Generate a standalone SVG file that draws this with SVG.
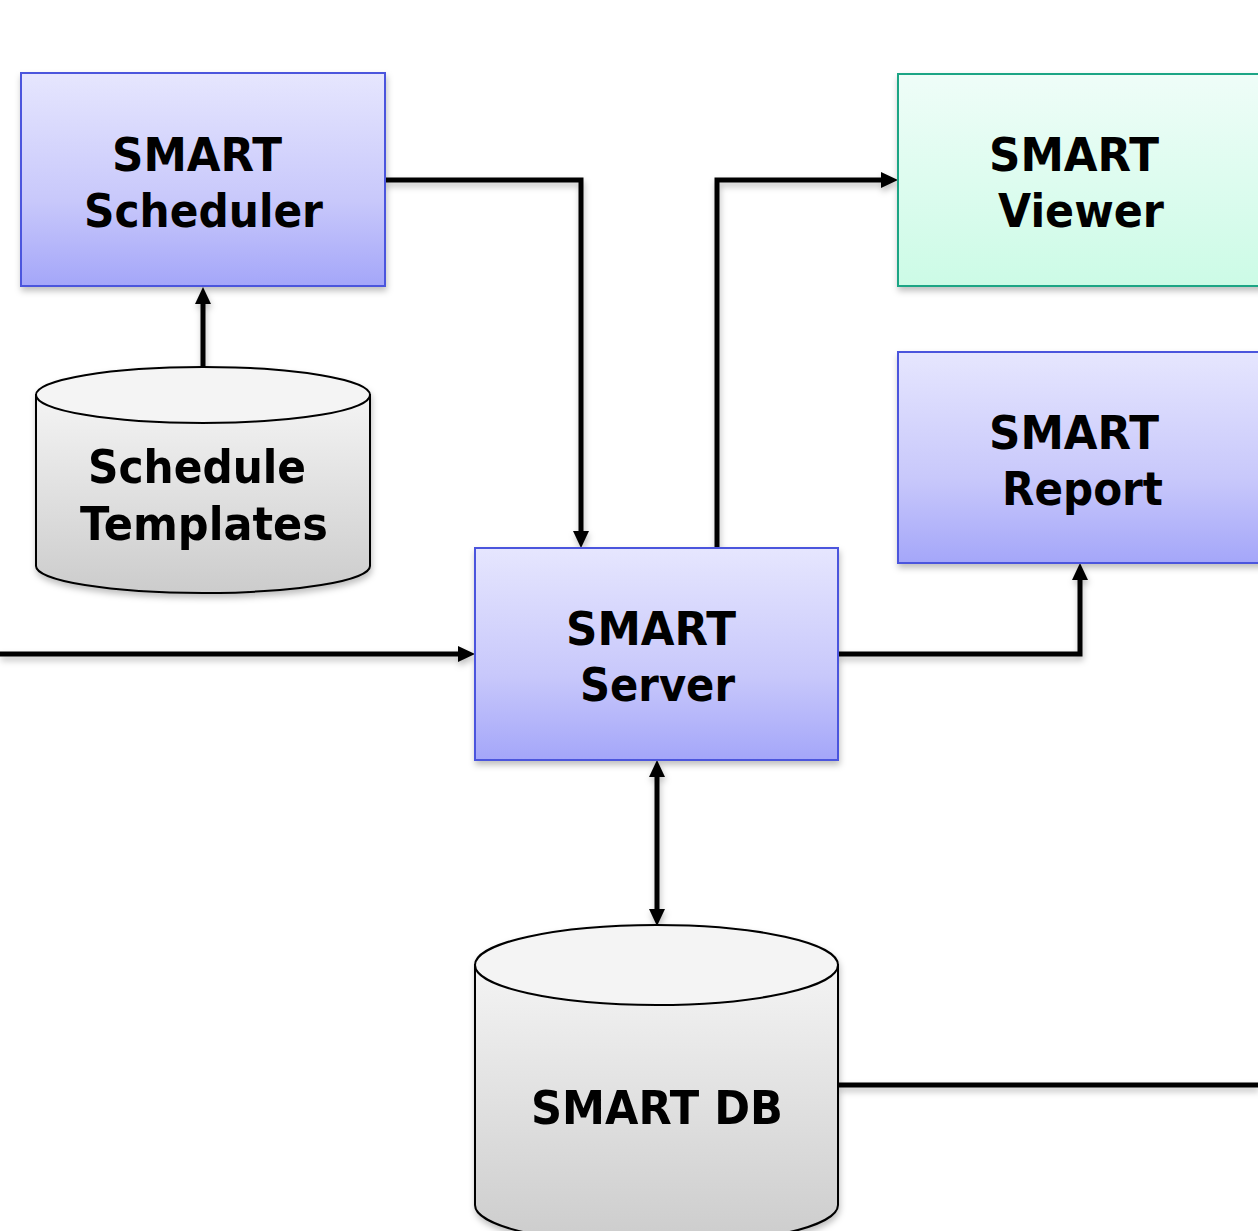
<svg xmlns="http://www.w3.org/2000/svg" width="1258" height="1231" viewBox="0 0 1258 1231">
<defs>
<linearGradient id="gBlue" x1="0" y1="0" x2="0" y2="1"><stop offset="0" stop-color="#e6e6fe"/><stop offset="0.6" stop-color="#c8c8fb"/><stop offset="1" stop-color="#a4a6f9"/></linearGradient>
<linearGradient id="gGreen" x1="0" y1="0" x2="0" y2="1"><stop offset="0" stop-color="#effdf8"/><stop offset="1" stop-color="#ccfbe6"/></linearGradient>
<linearGradient id="gGray" x1="0" y1="0" x2="0" y2="1"><stop offset="0" stop-color="#f4f4f4"/><stop offset="1" stop-color="#cccccc"/></linearGradient>
<filter id="sh" x="-10%" y="-10%" width="130%" height="140%"><feDropShadow dx="1" dy="4" stdDeviation="3" flood-color="#000" flood-opacity="0.25"/></filter>
<filter id="shL" filterUnits="userSpaceOnUse" x="0" y="0" width="1258" height="1231"><feDropShadow dx="1" dy="4" stdDeviation="3" flood-color="#000" flood-opacity="0.25"/></filter>
<marker id="arr" markerUnits="userSpaceOnUse" markerWidth="20" markerHeight="18" refX="3" refY="8" orient="auto-start-reverse" viewBox="0 0 20 16"><path d="M0,0 L17,8 L0,16 Z" fill="#000"/></marker>
<style>
.box{stroke-width:2;filter:url(#sh)}
.blue{fill:url(#gBlue);stroke:#4b54dd}
.green{fill:url(#gGreen);stroke:#1ba585}
.cyl{fill:url(#gGray);stroke:#000;stroke-width:2}
.top{fill:#f4f4f4;stroke:#000;stroke-width:2}
.lbl{font-family:"DejaVu Sans","Liberation Sans",sans-serif;font-weight:bold;font-size:46px;fill:#000}
.c{fill:none;stroke:#000;stroke-width:5}
</style>
</defs>
<g id="connectors" filter="url(#shL)">
<path class="c" d="M385,180 H581 V534" marker-end="url(#arr)"/>
<path class="c" d="M717,548 V180 H884" marker-end="url(#arr)"/>
<path class="c" d="M203,367 V301" marker-end="url(#arr)"/>
<path class="c" d="M0,654 H461" marker-end="url(#arr)"/>
<path class="c" d="M838,654 H1080 V577" marker-end="url(#arr)"/>
<path class="c" d="M657,774 V912" marker-start="url(#arr)" marker-end="url(#arr)"/>
<path class="c" d="M838,1085 H1258"/>
</g>
<g id="scheduler">
<rect class="box blue" x="21" y="73" width="364" height="213"/>
<text class="lbl" x="197" y="171" text-anchor="middle" textLength="170" lengthAdjust="spacingAndGlyphs">SMART</text>
<text class="lbl" x="203.5" y="227" text-anchor="middle" textLength="239" lengthAdjust="spacingAndGlyphs">Scheduler</text>
</g>
<g id="templates" filter="url(#sh)">
<path class="cyl" d="M36,395 V566 A167,27 0 0 0 370,566 V395 Z"/>
<ellipse class="top" cx="203" cy="395" rx="167" ry="28"/>
<text class="lbl" x="197" y="483" text-anchor="middle" textLength="218" lengthAdjust="spacingAndGlyphs">Schedule</text>
<text class="lbl" x="204" y="540" text-anchor="middle" textLength="248" lengthAdjust="spacingAndGlyphs">Templates</text>
</g>
<g id="server">
<rect class="box blue" x="475" y="548" width="363" height="212"/>
<text class="lbl" x="651" y="645" text-anchor="middle" textLength="170" lengthAdjust="spacingAndGlyphs">SMART</text>
<text class="lbl" x="657.5" y="701" text-anchor="middle" textLength="155" lengthAdjust="spacingAndGlyphs">Server</text>
</g>
<g id="viewer">
<rect class="box green" x="898" y="74" width="380" height="212"/>
<text class="lbl" x="1074" y="171" text-anchor="middle" textLength="170" lengthAdjust="spacingAndGlyphs">SMART</text>
<text class="lbl" x="1081" y="227" text-anchor="middle" textLength="166" lengthAdjust="spacingAndGlyphs">Viewer</text>
</g>
<g id="report">
<rect class="box blue" x="898" y="352" width="380" height="211"/>
<text class="lbl" x="1074" y="449" text-anchor="middle" textLength="170" lengthAdjust="spacingAndGlyphs">SMART</text>
<text class="lbl" x="1082.5" y="505" text-anchor="middle" textLength="161" lengthAdjust="spacingAndGlyphs">Report</text>
</g>
<g id="smartdb" filter="url(#sh)">
<path class="cyl" d="M475,965 V1205 A181.5,40 0 0 0 838,1205 V965 Z"/>
<ellipse class="top" cx="656.5" cy="965" rx="181.5" ry="40"/>
<text class="lbl" x="657" y="1124" text-anchor="middle" textLength="252" lengthAdjust="spacingAndGlyphs">SMART DB</text>
</g>
</svg>
